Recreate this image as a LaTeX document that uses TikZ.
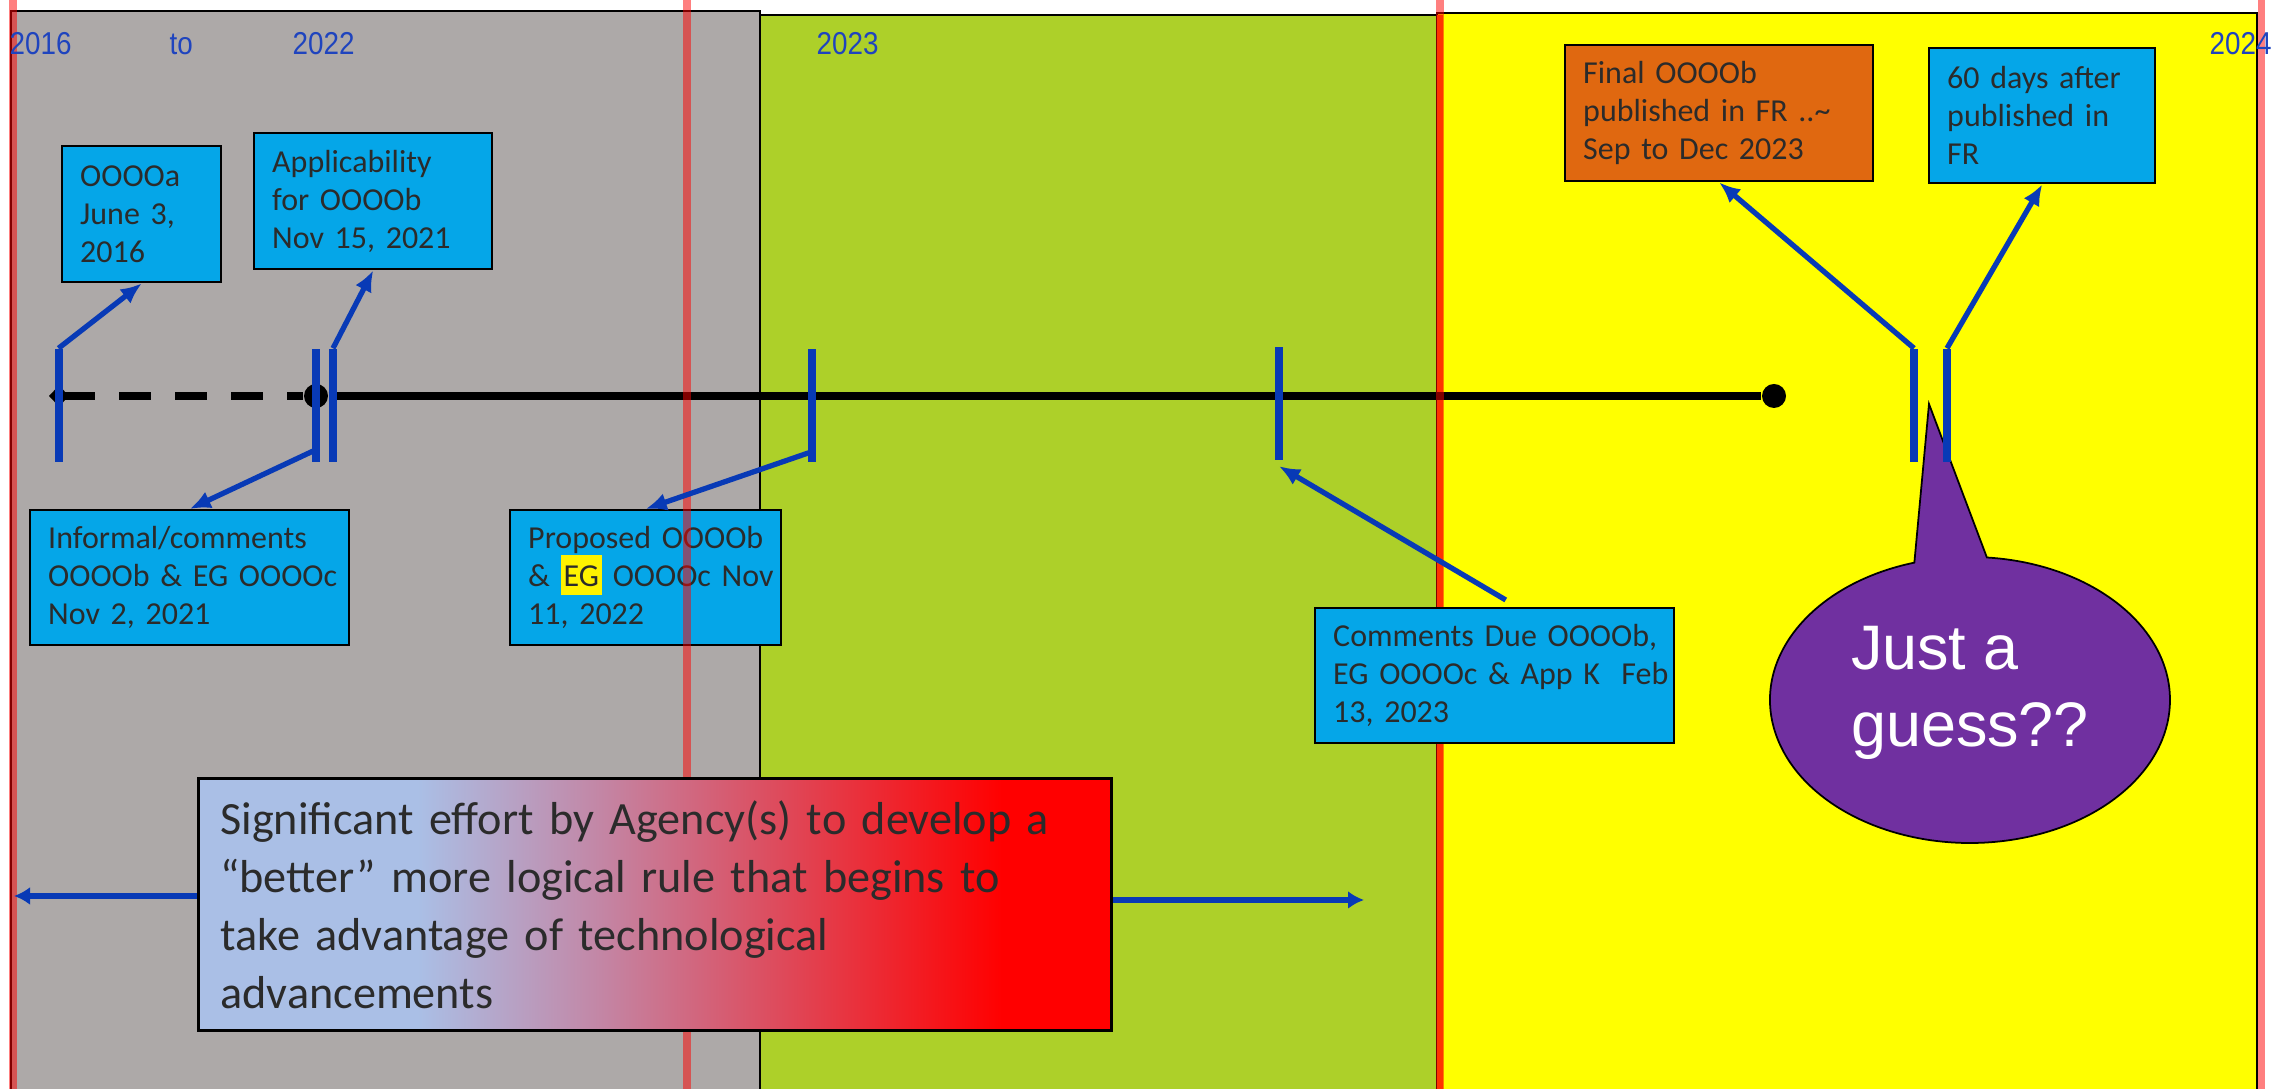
\documentclass[tikz,border=0pt]{standalone}
\usepackage{fontspec}
\usetikzlibrary{arrows.meta,shapes.callouts}
\newfontfamily\boxfont{Carlito}
\newfontfamily\yearfont{Liberation Sans}[FakeStretch=0.88]
\newfontfamily\bubblefont{Liberation Sans}

\definecolor{periodgray}{HTML}{ADA9A8}
\definecolor{periodgreen}{HTML}{ADD029}
\definecolor{periodyellow}{HTML}{FFFF00}
\definecolor{edgeorange}{HTML}{FF6A00}
\definecolor{boxblue}{HTML}{05A6E8}
\definecolor{boxorange}{HTML}{E06810}
\definecolor{tickblue}{HTML}{083AB6}
\definecolor{yearblue}{HTML}{1F44BE}
\definecolor{textgray}{HTML}{2B2B2B}
\definecolor{guesspurple}{HTML}{7030A0}
\definecolor{effortblue}{HTML}{AABFE6}
\definecolor{effortmauve}{HTML}{C386A5}

\pgfdeclarehorizontalshading{effortshade}{100bp}{color(0bp)=(effortblue); color(37bp)=(effortblue); color(47bp)=(effortmauve); color(69bp)=(red); color(100bp)=(red)}

\makeatletter
\def\ev@fill{boxblue}
\pgfkeys{
  /ev/.cd,
  id/.store in=\ev@id,
  left/.store in=\ev@left,
  top/.store in=\ev@top,
  width/.store in=\ev@width,
  height/.store in=\ev@height,
  fill/.store in=\ev@fill,
}
\newcommand{\event}[2][]{
  \pgfkeys{/ev/.cd,fill=boxblue,#1}
  \node[event box,fill=\ev@fill,text width=\ev@width,minimum height=\ev@height] (\ev@id) at (\ev@left,\ev@top) {#2};
}
\newcommand{\hilite}[1]{{\setlength{\fboxsep}{0pt}\colorbox{yellow}{\kern0.03cm\rule[-0.08cm]{0pt}{0.40cm}#1\kern0.03cm}}}
\makeatother

\begin{document}
\begin{tikzpicture}[
  period/.style={draw=black,line width=0.6pt},
  marker line/.style={draw=red,draw opacity=0.5,line width=2pt},
  year/.style={font=\yearfont\fontsize{9pt}{10pt}\selectfont,text=yearblue,anchor=base west,inner sep=0pt},
  timeline/.style={line width=2.3pt,black},
  dot/.style={circle,fill=black,minimum size=0.24cm,inner sep=0pt},
  tick mark/.style={fill=tickblue,minimum width=0.08cm,minimum height=1.13cm,inner sep=0pt},
  event box/.style={draw=black,line width=0.7pt,text=textgray,font=\boxfont\fontsize{9.1pt}{10.8pt}\selectfont,align=left,inner xsep=0.18cm,inner ysep=0pt,anchor=north west},
  effort box/.style={draw=black,line width=0.8pt,shading=effortshade,text=textgray,font=\boxfont\fontsize{13.15pt}{16.5pt}\selectfont,align=left,inner xsep=0.22cm,inner ysep=0pt,anchor=north west},
  pointer/.style={draw=tickblue,line width=1.5pt,-{Latex[length=0.21cm,width=0.18cm]}},
  span arrow/.style={draw=tickblue,line width=1.6pt,-{Latex[length=0.16cm,width=0.18cm]}},
  guess bubble/.style={ellipse callout,callout pointer arc=21,fill=guesspurple,draw=black,line width=0.5pt,minimum width=4cm,minimum height=2.86cm,inner sep=0pt,text=white,align=left,text depth=0.27cm,font=\bubblefont\fontsize{17.9pt}{21.9pt}\selectfont},
  ]

  \useasboundingbox (0,0) rectangle (22.88,10.89);
  \clip (0,0) rectangle (22.88,10.89);

  \path[period,fill=periodgray] (0.11,-0.2) rectangle (7.60,10.78);
  \path[period,fill=periodgreen] (7.60,-0.2) rectangle (14.37,10.74);
  \path[period,fill=periodyellow] (14.37,-0.2) rectangle (22.57,10.76);
  \draw[edgeorange,line width=0.06cm] (14.40,-0.2) -- (14.40,10.74);

  \coordinate (tl-start) at (0.49,6.93);
  \node[dot] (tl-now) at (3.16,6.93) {};
  \node[dot] (tl-end) at (17.74,6.93) {};
  \draw[timeline,dash pattern=on 0.32cm off 0.24cm,{Diamond[length=0.2cm,width=0.21cm]}-] (tl-start) -- (tl-now);
  \draw[timeline] (tl-now) -- (tl-end);

  \event[id=oooa,left=0.61,top=9.44,width=1.23cm,height=1.36cm]{OOOOa\\June 3,\\2016}
  \event[id=appl,left=2.53,top=9.57,width=2.02cm,height=1.36cm]{Applicability\\for OOOOb\\Nov 15, 2021}
  \event[id=informal,left=0.29,top=5.80,width=2.83cm,height=1.35cm]{Informal/comments\\OOOOb~\&~EG~OOOOc\\Nov 2, 2021}
  \event[id=proposed,left=5.09,top=5.80,width=2.35cm,height=1.35cm]{Proposed~OOOOb\\\&~\hilite{EG}~OOOOc~Nov\\11, 2022}

  \foreach \mx in {0.13,6.87,14.40,22.61}
    \draw[marker line] (\mx,-0.2) -- (\mx,10.95);

  \node[year] (yr-2016) at (0.09,10.34) {2016};
  \node[year] (yr-to) at (1.69,10.34) {to};
  \node[year] (yr-2022) at (2.92,10.34) {2022};
  \node[year] (yr-2023) at (8.16,10.34) {2023};
  \node[year] (yr-2024) at (22.09,10.34) {2024};

  \event[id=comments,left=13.14,top=4.82,width=3.23cm,height=1.35cm]{Comments~Due~OOOOb,\\EG~OOOOc~\&~App~K~~Feb\\13, 2023}
  \event[id=final,left=15.64,top=10.45,width=2.72cm,height=1.36cm,fill=boxorange]{Final OOOOb\\published in FR ..\textasciitilde\\Sep to Dec 2023}
  \event[id=sixty,left=19.28,top=10.42,width=1.90cm,height=1.35cm]{60 days after\\published in\\FR}

  \node[effort box,text width=8.69cm,minimum height=2.52cm] (effort) at (1.97,3.12) {Significant effort by Agency(s) to develop a\\“better” more logical rule that begins to\\take advantage of technological\\advancements};

  \coordinate (guess-tip) at (19.29,6.85);
  \node[guess bubble,callout absolute pointer={(guess-tip)}] (guess) at (19.70,3.89) {Just a\\guess??};

  \node[tick mark] (tk-oooa) at (0.585,6.835) {};
  \node[tick mark] (tk-informal) at (3.16,6.835) {};
  \node[tick mark] (tk-appl) at (3.33,6.835) {};
  \node[tick mark] (tk-proposed) at (8.12,6.835) {};
  \node[tick mark] (tk-comments) at (12.79,6.85) {};
  \node[tick mark] (tk-final) at (19.14,6.835) {};
  \node[tick mark] (tk-sixty) at (19.47,6.835) {};

  \draw[pointer] (tk-oooa.north) -- (oooa.south);
  \draw[pointer] (tk-appl.north) -- (appl.south);
  \draw[pointer] ([yshift=0.13cm]tk-informal.south) -- (informal.north);
  \draw[pointer] ([yshift=0.11cm]tk-proposed.south) -- (proposed.north);
  \draw[pointer] ([xshift=0.11cm,yshift=0.07cm]comments.north) -- ([yshift=-0.05cm]tk-comments.south);
  \draw[pointer] (tk-final.north) -- (final.south);
  \draw[pointer] (tk-sixty.north) -- (sixty.south);

  \coordinate (span-left) at (0.14,1.93);
  \coordinate (span-right) at (13.64,1.89);
  \draw[span arrow] (effort.west |- span-left) -- (span-left);
  \draw[span arrow] (effort.east |- span-right) -- (span-right);
\end{tikzpicture}
\end{document}
